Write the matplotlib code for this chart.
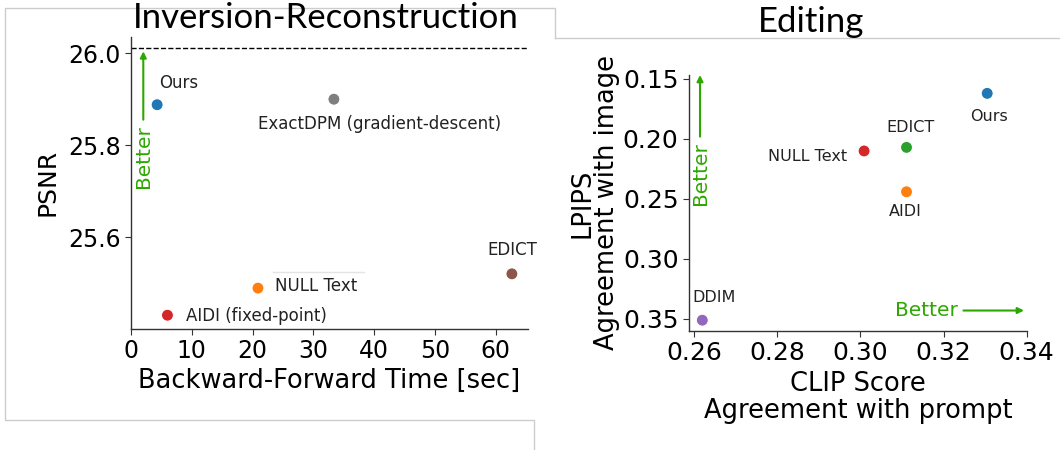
import matplotlib
matplotlib.use("Agg")
import matplotlib.pyplot as plt
from matplotlib.lines import Line2D

plt.rcParams["font.family"] = "DejaVu Sans"

# --- data: inversion-reconstruction panel ---
inv_methods = ["Ours", "ExactDPM (gradient-descent)", "NULL Text", "AIDI (fixed-point)", "EDICT"]
inv_time = [4.3, 33.4, 20.9, 6.0, 62.7]
inv_psnr = [25.888, 25.900, 25.489, 25.430, 25.520]
inv_colors = ["tab:blue", "tab:gray", "tab:orange", "tab:red", "tab:brown"]
psnr_ref = 26.011

# --- data: editing panel ---
edit_methods = ["Ours", "EDICT", "NULL Text", "AIDI", "DDIM"]
edit_clip = [0.3305, 0.3111, 0.3009, 0.3111, 0.2620]
edit_lpips = [0.162, 0.207, 0.210, 0.244, 0.351]
edit_colors = ["tab:blue", "tab:green", "tab:red", "tab:orange", "tab:purple"]

GREEN = "#2ca800"
W, H = 1060, 450

fig = plt.figure(figsize=(W / 100, H / 100), dpi=100)


def fx(px):
    return px / W


def fy(py):
    return 1 - py / H


# light frame lines of the slide
frame_col = "#cccccc"
fig.add_artist(Line2D([fx(555), fx(555), fx(5), fx(5), fx(534), fx(534)],
                      [fy(38), fy(8), fy(8), fy(420), fy(420), fy(450)],
                      color=frame_col, lw=1))
fig.add_artist(Line2D([fx(555), fx(1060)], [fy(38), fy(38)], color=frame_col, lw=1))
fig.add_artist(Line2D([fx(273), fx(364)], [fy(272), fy(272)], color="#e4e4e4", lw=1))

title_font = dict(family="Lato", fontsize=25, color="black")
fig.text(fx(326), fy(28), "Inversion-Reconstruction", ha="center", va="baseline", **title_font)
fig.text(fx(811), fy(32), "Editing", ha="center", va="baseline", **title_font)


def style_axes(ax, tick_size):
    for s in ["top", "right"]:
        ax.spines[s].set_visible(False)
    for s in ["left", "bottom"]:
        ax.spines[s].set_color("#333333")
        ax.spines[s].set_linewidth(1.0)
    ax.tick_params(labelsize=tick_size, length=4, color="#333333")


# ---------------- left panel ----------------
ax1 = fig.add_axes([fx(131), fy(329), fx(527.7 - 131), (329 - 36.7) / H])
ax1.axhline(psnr_ref, color="black", lw=1, ls="--")
ax1.scatter(inv_time, inv_psnr, c=inv_colors, s=75, edgecolors="white", linewidths=0.8, zorder=3)
ax1.set_xlim(0, 65.3)
ax1.set_ylim(25.4, 26.036)
ax1.set_xticks([0, 10, 20, 30, 40, 50, 60])
ax1.set_yticks([25.6, 25.8, 26.0])
style_axes(ax1, 17)
ax1.set_xlabel("Backward-Forward Time [sec]", fontsize=18.5, labelpad=3)
ax1.set_ylabel("PSNR", fontsize=18, labelpad=6)

# label offsets in pixels (dx, dy, ha)
inv_offsets = [(2, 17, "left"), (46, -30, "center"), (17, -2.5, "left"),
               (19, -5.5, "left"), (0, 19, "center")]
for name, x, y, (dx, dy, ha) in zip(inv_methods, inv_time, inv_psnr, inv_offsets):
    ax1.annotate(name, (x, y), xytext=(dx, dy), textcoords="offset pixels",
                 ha=ha, va="baseline", fontsize=12, color="#222222")

ax1.annotate("Better", xy=(0.031, 0.95), xytext=(0.031, 0.482), xycoords="axes fraction",
             textcoords="axes fraction", rotation=90, ha="center", va="bottom",
             fontsize=14.5, color=GREEN,
             arrowprops=dict(arrowstyle="-|>", color=GREEN, lw=1.5, mutation_scale=9,
                             shrinkA=2, shrinkB=0))

# ---------------- right panel ----------------
ax2 = fig.add_axes([fx(689), fy(331), fx(1026.7 - 689), (331 - 75) / H])
ax2.scatter(edit_clip, edit_lpips, c=edit_colors, s=75, edgecolors="white", linewidths=0.8, zorder=3)
ax2.set_xlim(0.2588, 0.34)
ax2.set_ylim(0.36, 0.1467)
ax2.set_xticks([0.26, 0.28, 0.30, 0.32, 0.34])
ax2.set_yticks([0.15, 0.20, 0.25, 0.30, 0.35])
ax2.xaxis.set_major_formatter(plt.FormatStrFormatter("%.2f"))
ax2.yaxis.set_major_formatter(plt.FormatStrFormatter("%.2f"))
style_axes(ax2, 18)
ax2.set_xlabel("CLIP Score\nAgreement with prompt", fontsize=18.5, linespacing=1.05, labelpad=4)
ax2.set_ylabel("LPIPS\nAgreement with image", fontsize=18.5, linespacing=0.95, labelpad=2)

edit_offsets = [(2, -27.5, "center"), (4, 15.5, "center"), (-17, -10, "right"),
                (-1, -24.5, "center"), (-10, 18.5, "left")]
for name, x, y, (dx, dy, ha) in zip(edit_methods, edit_clip, edit_lpips, edit_offsets):
    ax2.annotate(name, (x, y), xytext=(dx, dy), textcoords="offset pixels",
                 ha=ha, va="baseline", fontsize=11.5, color="#222222")

ax2.annotate("Better", xy=(0.0326, 1.0), xytext=(0.0326, 0.492), xycoords="axes fraction",
             textcoords="axes fraction", rotation=90, ha="center", va="bottom",
             fontsize=14.5, color=GREEN,
             arrowprops=dict(arrowstyle="-|>", color=GREEN, lw=1.5, mutation_scale=9,
                             shrinkA=2, shrinkB=0))
ax2.annotate("Better", xy=(0.992, 0.08), xytext=(0.61, 0.08), xycoords="axes fraction",
             textcoords="axes fraction", ha="left", va="center",
             fontsize=14.5, color=GREEN,
             arrowprops=dict(arrowstyle="-|>", color=GREEN, lw=1.5, mutation_scale=9,
                             shrinkA=2, shrinkB=0))

fig.savefig("out.png", dpi=100)
